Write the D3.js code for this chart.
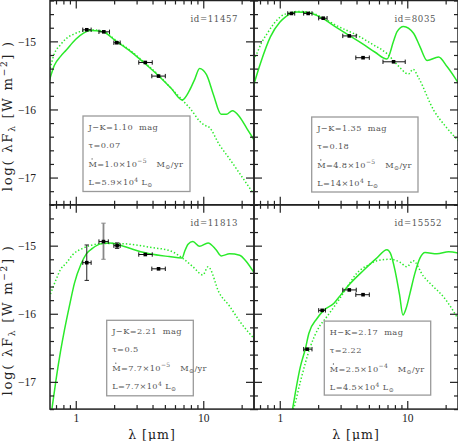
<!DOCTYPE html>
<html><head><meta charset="utf-8">
<script src="https://cdn.jsdelivr.net/npm/d3@7"></script>
<style>
body{margin:0;background:#fff}
svg{display:block}
text{font-family:"DejaVu Serif",serif}
.tick text{font-family:"Liberation Serif",serif;font-size:11.5px;fill:#222}
</style>
</head><body>
<svg id="c" width="458" height="441"></svg>
<script>
// ---------- data ----------
const xMajor = [1, 10];
const xTickLabels = ["1", "10"];
const xMinor = [0.7, 0.8, 0.9, 2, 3, 4, 5, 6, 7, 8, 9, 20];
const yMajor = [-17, -16, -15];
const yTickLabels = ["−17", "−16", "−15"];
const yMinor = [-17.4, -17.2, -16.8, -16.6, -16.4, -16.2, -15.8, -15.6, -15.4, -15.2, -14.8, -14.6, -14.4];

const ids = ["id=11457", "id=8035", "id=11813", "id=15552"];
const colorLabel = ["J−K=1.10", "J−K=1.35", "J−K=2.21", "H−K=2.17"];
const tauLabel = ["0.07", "0.18", "0.5", "2.22"];
const mdotMant = ["1.0", "4.8", "7.7", "2.5"];
const mdotExp = ["−5", "−5", "−5", "−4"];
const lumMant = ["5.9", "14", "7.7", "4.5"];

// panel 1 : id 11457
const p1SolidX = [0.62, 0.68, 0.76, 0.84, 1.0, 1.15, 1.3, 1.63, 2.08, 2.7, 3.36, 4.54, 5.6, 6.84, 7.8, 8.6, 9.35, 10.6, 12.0, 13.8, 15.2, 16.9, 19.3, 22, 25.5];
const p1SolidY = [-15.58, -15.35, -15.22, -15.13, -14.97, -14.88, -14.84, -14.86, -15.0, -15.15, -15.30, -15.52, -15.69, -15.86, -15.72, -15.55, -15.40, -15.49, -15.78, -16.07, -16.07, -16.02, -16.11, -16.28, -16.47];
const p1DotX = [0.62, 0.68, 0.76, 0.84, 0.95, 1.07, 1.3, 1.63, 2.08, 2.7, 3.36, 4.54, 5.6, 6.84, 8.0, 9.35, 10.2, 11.1, 13.4, 16.0, 19.3, 25.5];
const p1DotY = [-15.45, -15.18, -15.05, -14.96, -14.9, -14.86, -14.83, -14.85, -14.99, -15.14, -15.29, -15.51, -15.69, -15.86, -16.0, -16.17, -16.23, -16.26, -16.52, -16.72, -16.94, -17.27];
const p1PtX = [1.22, 1.66, 2.10, 3.51, 4.46];
const p1PtY = [-14.83, -14.86, -15.02, -15.31, -15.51];
const p1PtXlo = [1.135, 1.52, 1.99, 3.12, 3.95];
const p1PtXhi = [1.32, 1.84, 2.23, 3.98, 5.04];
const p1PtYlo = [null, null, null, null, null];
const p1PtYhi = [null, null, null, null, null];

// panel 2 : id 8035
const p2SolidX = [0.62, 0.706, 0.846, 1.0, 1.11, 1.37, 1.69, 2.15, 2.7, 3.47, 4.5, 5.6, 6.93, 7.8, 8.3, 9.35, 11.2, 12.6, 14.3, 17.6, 20.5, 25.5];
const p2SolidY = [-15.66, -15.32, -14.93, -14.72, -14.64, -14.57, -14.58, -14.66, -14.78, -14.91, -15.04, -15.16, -15.26, -15.0, -14.86, -14.78, -14.88, -15.08, -15.28, -15.23, -15.37, -15.63];
const p2DotX = [0.62, 0.66, 0.72, 0.80, 0.9, 1.01, 1.2, 1.4, 1.7, 2.15, 2.8, 4.04, 5.3, 6.93, 8.5, 10.2, 11.1, 12.3, 16.1, 20.0, 25.5];
const p2DotY = [-15.27, -15.18, -15.02, -14.88, -14.74, -14.64, -14.58, -14.56, -14.57, -14.65, -14.77, -14.91, -15.04, -15.18, -15.36, -15.48, -15.41, -15.54, -16.01, -16.25, -16.47];
const p2PtX = [1.235, 1.67, 2.19, 3.51, 4.50, 7.81];
const p2PtY = [-14.59, -14.59, -14.66, -14.92, -15.24, -15.30];
const p2PtXlo = [1.155, 1.54, 2.02, 3.12, 3.95, 6.45];
const p2PtXhi = [1.31, 1.79, 2.35, 3.98, 5.04, 9.64];
const p2PtYlo = [null, null, null, null, null, null];
const p2PtYhi = [null, null, null, null, null, null];

// panel 3 : id 11813
const p3SolidX = [0.65, 0.70, 0.76, 0.815, 0.9, 0.977, 1.1, 1.21, 1.35, 1.6, 1.84, 2.2, 3.0, 3.8, 5.4, 6.84, 7.13, 7.6, 8.29, 9.35, 10.9, 12.6, 13.8, 16.1, 19.3, 21.5, 25.5];
const p3SolidY = [-17.4, -16.97, -16.55, -16.24, -15.85, -15.55, -15.27, -15.12, -15.04, -14.97, -14.96, -14.99, -15.07, -15.12, -15.16, -15.18, -15.09, -14.98, -14.94, -15.01, -14.96, -15.06, -15.15, -15.12, -15.14, -15.22, -15.42];
const p3DotX = [0.62, 0.70, 0.76, 0.84, 0.95, 1.135, 1.35, 1.63, 2.2, 2.98, 4.0, 5.4, 6.84, 8.3, 9.93, 10.9, 13.4, 16.1, 19.3, 25.5];
const p3DotY = [-15.76, -15.50, -15.35, -15.26, -15.13, -15.04, -14.99, -14.97, -14.97, -14.99, -15.03, -15.07, -15.18, -15.31, -15.43, -15.31, -15.70, -15.89, -16.11, -16.38];
const p3PtX = [1.22, 1.65, 2.11, 3.51, 4.46];
const p3PtY = [-15.25, -14.94, -15.0, -15.13, -15.34];
const p3PtXlo = [1.135, 1.52, 1.99, 3.12, 3.95];
const p3PtXhi = [1.32, 1.80, 2.23, 3.98, 5.04];
const p3PtYlo = [-15.51, -15.20, -15.04, null, null];
const p3PtYhi = [-14.99, -14.67, -14.96, null, null];

// panel 4 : id 15552
const p4SolidX = [1.26, 1.45, 1.59, 1.69, 1.96, 2.21, 2.65, 2.99, 3.4, 4.55, 5.7, 6.93, 7.37, 8.05, 8.7, 9.25, 9.8, 10.5, 11.5, 12.6, 13.8, 17.1, 21.1, 25.5];
const p4SolidY = [-17.4, -16.78, -16.51, -16.29, -16.07, -15.95, -15.85, -15.73, -15.60, -15.36, -15.19, -15.06, -15.11, -15.38, -15.72, -16.02, -15.92, -15.70, -15.40, -15.18, -15.10, -15.12, -15.09, -15.11];
const p4DotX = [1.22, 1.29, 1.45, 1.74, 2.0, 2.35, 2.9, 3.4, 4.04, 5.0, 5.79, 7.36, 8.7, 9.95, 11.1, 13.4, 16.0, 19.2, 25.5];
const p4DotY = [-17.5, -17.38, -17.0, -16.48, -16.22, -16.04, -15.80, -15.60, -15.40, -15.28, -15.22, -15.20, -15.24, -15.31, -15.22, -15.45, -15.60, -15.75, -16.10];
const p4PtX = [1.64, 2.15, 3.51, 4.50];
const p4PtY = [-16.52, -15.95, -15.65, -15.72];
const p4PtXlo = [1.54, 2.02, 3.12, 3.95];
const p4PtXhi = [1.79, 2.28, 3.98, 5.04];
const p4PtYlo = [null, null, null, null];
const p4PtYhi = [null, null, null, null];

// ---------- layout ----------
const W = 204, H = 204.3;
const origins = [[50, 0.5], [254, 0.5], [50, 204.8], [254, 204.8]];
const boxes = [[33, 115.5, 107, 75.5], [57.7, 116.5, 106.3, 75], [56.7, 115.5, 86.6, 75.5], [70.3, 116.3, 106.4, 74]];
const lineY = [129.5, 147.5, 166.5, 184.8];
const green = "#2aea2a";

const x = d3.scaleLog().domain([0.628, 25]).range([0, W]);
const y = d3.scaleLinear().domain([-17.4, -14.4]).range([H, 0]);

const svg = d3.select("#c");
svg.append("defs").append("clipPath").attr("id", "clip")
  .append("rect").attr("x", 0).attr("y", 0).attr("width", W).attr("height", H);

const panels = [
  {sx: p1SolidX, sy: p1SolidY, dx: p1DotX, dy: p1DotY, px: p1PtX, py: p1PtY, xlo: p1PtXlo, xhi: p1PtXhi, ylo: p1PtYlo, yhi: p1PtYhi},
  {sx: p2SolidX, sy: p2SolidY, dx: p2DotX, dy: p2DotY, px: p2PtX, py: p2PtY, xlo: p2PtXlo, xhi: p2PtXhi, ylo: p2PtYlo, yhi: p2PtYhi},
  {sx: p3SolidX, sy: p3SolidY, dx: p3DotX, dy: p3DotY, px: p3PtX, py: p3PtY, xlo: p3PtXlo, xhi: p3PtXhi, ylo: p3PtYlo, yhi: p3PtYhi},
  {sx: p4SolidX, sy: p4SolidY, dx: p4DotX, dy: p4DotY, px: p4PtX, py: p4PtY, xlo: p4PtXlo, xhi: p4PtXhi, ylo: p4PtYlo, yhi: p4PtYhi}
];

const line = d3.line().x(d => x(d[0])).y(d => y(d[1])).curve(d3.curveMonotoneX);

function styleAxis(g) {
  g.select(".domain").remove();
  g.selectAll(".tick line").attr("stroke", "#222").attr("stroke-width", 1.2);
}

panels.forEach((p, i) => {
  const col = i % 2, row = Math.floor(i / 2);
  const g = svg.append("g").attr("transform", `translate(${origins[i][0]},${origins[i][1]})`);
  const plot = g.append("g").attr("clip-path", "url(#clip)");

  // curves
  plot.append("path").datum(d3.zip(p.dx, p.dy)).attr("d", line)
    .attr("fill", "none").attr("stroke", green).attr("stroke-width", 1.5)
    .attr("stroke-dasharray", "1.4 2.1");
  plot.append("path").datum(d3.zip(p.sx, p.sy)).attr("d", line)
    .attr("fill", "none").attr("stroke", green).attr("stroke-width", 1.5);

  // data points
  const pts = p.px.map((v, k) => ({x: v, y: p.py[k], xlo: p.xlo[k], xhi: p.xhi[k], ylo: p.ylo[k], yhi: p.yhi[k], k}));
  const pg = plot.append("g");
  pts.forEach(d => {
    const cx = x(d.x), cy = y(d.y);
    pg.append("line").attr("x1", x(d.xlo)).attr("x2", x(d.xhi)).attr("y1", cy).attr("y2", cy)
      .attr("stroke", "#111").attr("stroke-width", 1);
    [d.xlo, d.xhi].forEach(e => pg.append("line").attr("x1", x(e)).attr("x2", x(e))
      .attr("y1", cy - 2.2).attr("y2", cy + 2.2).attr("stroke", "#111").attr("stroke-width", 1));
    if (d.ylo !== null) {
      const c = (i === 2 && d.k === 1) ? "#888" : "#222";
      const sw = (i === 2 && d.k === 1) ? 1.8 : 1;
      pg.append("line").attr("x1", cx).attr("x2", cx).attr("y1", y(d.ylo)).attr("y2", y(d.yhi))
        .attr("stroke", c).attr("stroke-width", sw);
      [d.ylo, d.yhi].forEach(e => pg.append("line").attr("x1", cx - 2.2).attr("x2", cx + 2.2)
        .attr("y1", y(e)).attr("y2", y(e)).attr("stroke", c).attr("stroke-width", 1));
    }
    pg.append("rect").attr("x", cx - 1.8).attr("y", cy - 1.8).attr("width", 3.6).attr("height", 3.6).attr("fill", "#000");
  });

  // axes (ticks inward)
  const showX = row === 1, showY = col === 0;
  g.append("g").attr("transform", `translate(0,${H})`)
    .call(d3.axisBottom(x).tickValues(xMajor).tickSize(-8).tickPadding(5)
      .tickFormat((d, k) => showX ? xTickLabels[k] : ""))
    .call(styleAxis);
  g.append("g").attr("transform", `translate(0,${H})`)
    .call(d3.axisBottom(x).tickValues(xMinor).tickSize(-4).tickFormat(""))
    .call(styleAxis);
  g.append("g").call(d3.axisTop(x).tickValues(xMajor).tickSize(-8).tickFormat("")).call(styleAxis);
  g.append("g").call(d3.axisTop(x).tickValues(xMinor).tickSize(-4).tickFormat("")).call(styleAxis);
  g.append("g")
    .call(d3.axisLeft(y).tickValues(yMajor).tickSize(-8).tickPadding(14)
      .tickFormat((d, k) => showY ? yTickLabels[k] : ""))
    .call(styleAxis);
  g.append("g").call(d3.axisLeft(y).tickValues(yMinor).tickSize(-4).tickFormat("")).call(styleAxis);
  g.append("g").attr("transform", `translate(${W},0)`)
    .call(d3.axisRight(y).tickValues(yMajor).tickSize(-8).tickFormat("")).call(styleAxis);
  g.append("g").attr("transform", `translate(${W},0)`)
    .call(d3.axisRight(y).tickValues(yMinor).tickSize(-4).tickFormat("")).call(styleAxis);

  g.append("rect").attr("x", 0).attr("y", 0).attr("width", W).attr("height", H)
    .attr("fill", "none").attr("stroke", "#222").attr("stroke-width", 1.5);

  // id label
  g.append("text").attr("x", 140.5).attr("y", 21).attr("font-size", 8.6).attr("letter-spacing", 0.6)
    .attr("fill", "#555").text(ids[i]);

  // info box
  const b = boxes[i];
  g.append("rect").attr("x", b[0]).attr("y", b[1]).attr("width", b[2]).attr("height", b[3])
    .attr("fill", "none").attr("stroke", "#9a9a9a").attr("stroke-width", 1.3);
  const tx = b[0] + 5.5;
  const dyOff = b[1] - 116;
  const ts = {"font-size": 8.2, "letter-spacing": 0.4, fill: "#555"};
  const mk = (xx, yy) => {
    const t = g.append("text").attr("x", xx).attr("y", yy).style("white-space", "pre");
    Object.entries(ts).forEach(([k, v]) => t.attr(k, v));
    return t;
  };
  mk(tx, lineY[0] + dyOff).text(colorLabel[i] + "  mag");
  mk(tx, lineY[1] + dyOff).text("τ=" + tauLabel[i]);
  const t3 = mk(tx, lineY[2] + dyOff);
  t3.append("tspan").text("M=" + mdotMant[i] + "×10");
  t3.append("tspan").attr("dy", -3.3).attr("font-size", 6).text(mdotExp[i]);
  // dot above M (M-dot)
  g.append("circle").attr("cx", tx + 3.6).attr("cy", lineY[2] + dyOff - 7.6).attr("r", 0.65).attr("fill", "#555");
  const t3b = mk(tx + 68, lineY[2] + dyOff);
  t3b.append("tspan").text("M");
  t3b.append("tspan").attr("dy", 2).attr("font-size", 6).text("⊙");
  t3b.append("tspan").attr("dy", -2).text("/yr");
  const t4 = mk(tx, lineY[3] + dyOff);
  t4.append("tspan").text("L=" + lumMant[i] + "×10");
  t4.append("tspan").attr("dy", -3.3).attr("font-size", 6).text("4");
  t4.append("tspan").attr("dy", 3.3).text(" L");
  t4.append("tspan").attr("dy", 2).attr("font-size", 6).text("⊙");

  // axis titles
  if (row === 1) {
    g.append("text").attr("x", W / 2).attr("y", 439.5 - origins[i][1]).attr("text-anchor", "middle")
      .attr("font-size", 12.5).attr("letter-spacing", 1).attr("fill", "#222")
      .style("white-space", "pre").text("λ [μm]");
  }
  if (col === 0) {
    const yt = g.append("text").attr("transform", `translate(${11.5 - origins[i][0]},${H / 2 + 13}) rotate(-90)`)
      .attr("text-anchor", "middle").attr("font-size", 13.2).attr("letter-spacing", 1.7).attr("fill", "#222")
      .style("white-space", "pre");
    yt.append("tspan").text("log( λF");
    yt.append("tspan").attr("dy", 3).attr("font-size", 9).text("λ");
    yt.append("tspan").attr("dy", -3).text(" [W m");
    yt.append("tspan").attr("dy", -5).attr("font-size", 9).text("−2");
    yt.append("tspan").attr("dy", 5).text("] )");
  }
});
</script>
</body></html>
